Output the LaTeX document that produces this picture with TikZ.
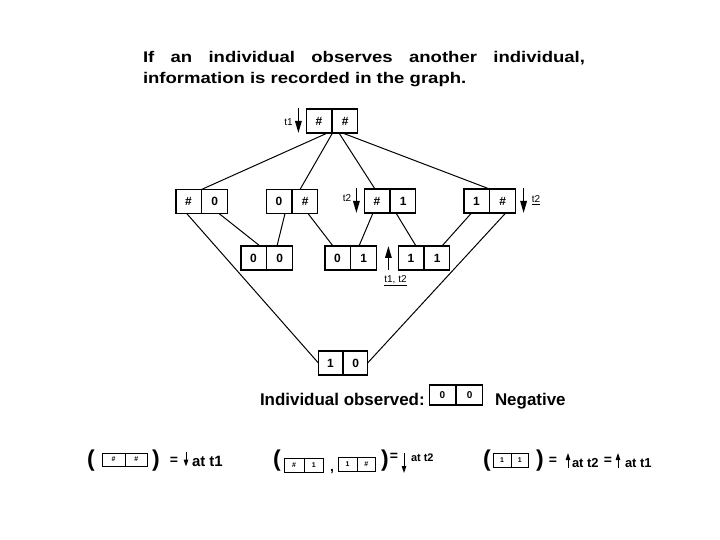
\documentclass[tikz,border=0pt]{standalone}
\usepackage{fontspec}
\setmainfont{Liberation Sans}
\newfontfamily\widesans[FakeStretch=1.2]{Liberation Sans}
\usetikzlibrary{arrows.meta,shapes.multipart}

\begin{document}
\begin{tikzpicture}[x=1bp,y=-1bp,
  every node/.style={inner sep=0pt,outer sep=0pt},
  pair/.style={draw,line width=1.2pt,rectangle split,rectangle split horizontal,
    rectangle split parts=2,text width=21bp,align=center,inner xsep=2bp,
    minimum height=24bp,font=\bfseries\fontsize{12}{12}\selectfont},
  mini/.style={pair,line width=0.8pt,minimum height=14bp,
    font=\bfseries\fontsize{7}{7}\selectfont},
  link/.style={line width=1pt},
  tarr/.style={line width=1.5pt,-{Triangle[length=12bp,width=6.5bp]}},
  sarr/.style={line width=1pt,-{Triangle[length=7bp,width=4.5bp]}},
  lbl/.style={font=\fontsize{10}{10}\selectfont},
  txt/.style={anchor=base west,font=\bfseries\fontsize{17}{17}\selectfont},
  sym/.style={font=\bfseries\fontsize{23}{23}\selectfont},
  eqs/.style={font=\bfseries\fontsize{14}{14}\selectfont}]
  \useasboundingbox (0,0) rectangle (720,540);
  % heading
  \node[anchor=base west,font=\widesans\bfseries\fontsize{15.5}{15.5}\selectfont] (head1) at (143,63)
    {\makebox[442bp][s]{If an individual observes another individual,}};
  \node[anchor=base west,font=\widesans\bfseries\fontsize{15.5}{15.5}\selectfont] (head2) at (143,84)
    {information is recorded in the graph.};
  % the graph
  \node[pair] (hh) at (332,121) {\#\nodepart{two}\#};
  \node[pair] (hz) at (201.5,201.5) {\#\nodepart{two}0};
  \node[pair] (zh) at (292,201.5) {0\nodepart{two}\#};
  \node[pair] (ho) at (390,201) {\#\nodepart{two}1};
  \node[pair] (oh) at (489.5,201) {1\nodepart{two}\#};
  \node[pair] (zz) at (266.5,258) {0\nodepart{two}0};
  \node[pair] (zo) at (350.5,258) {0\nodepart{two}1};
  \node[pair] (oo) at (424,258) {1\nodepart{two}1};
  \node[pair,text width=20bp] (oz) at (343,363) {1\nodepart{two}0};
  \draw[link] ([xshift=-4.5bp]hh.one split south) -- (hz.one split north);
  \draw[link] ([xshift=0.5bp]hh.one split south) -- ([xshift=8bp]zh.one split north);
  \draw[link] ([xshift=7bp]hh.one split south) -- ([xshift=-15bp]ho.one split north);
  \draw[link] ([xshift=10.5bp]hh.one split south) -- (oh.one split north);
  \draw[link] ([xshift=17.5bp]hz.one split south) -- ([xshift=-6.5bp]zz.one split north);
  \draw[link] ([xshift=-14.8bp]hz.one split south) -- (oz.west);
  \draw[link] ([xshift=-7bp]zh.one split south) -- ([xshift=10.5bp]zz.one split north);
  \draw[link] ([xshift=16bp]zh.one split south) -- ([xshift=-17.5bp]zo.one split north);
  \draw[link] ([xshift=-17bp]ho.one split south) -- ([xshift=8.5bp]zo.one split north);
  \draw[link] ([xshift=6bp]ho.one split south) -- ([xshift=-8bp]oo.one split north);
  \draw[link] ([xshift=-18bp]oh.one split south) -- ([xshift=18bp]oo.one split north);
  \draw[link] ([xshift=16.2bp]oh.one split south) -- (oz.east);
  % time marks
  \draw[tarr] ([xshift=-8bp,yshift=1bp]hh.north west) -- ([xshift=-8bp]hh.south west);
  \node[lbl] (t1a) at (288.5,122) {t1};
  \draw[tarr] ([xshift=-8bp,yshift=1bp]ho.north west) -- ([xshift=-8bp]ho.south west);
  \node[lbl] (t2a) at (347,198) {t2};
  \draw[tarr] ([xshift=8.5bp,yshift=1bp]oh.north east) -- ([xshift=8.5bp]oh.south east);
  \node[lbl] (t2b) at (536,200) {\underline{t2}};
  \draw[tarr] ([xshift=-10bp]oo.south west) -- ([xshift=-10bp]oo.north west);
  \node[lbl] (t12) at (395.5,281) {\underline{t1, t2}};
  % observed individual
  \node[txt] (obs) at (260,405) {Individual observed:};
  \node[pair,text width=22bp,minimum height=20bp,font=\bfseries\fontsize{10}{10}\selectfont]
    (neg) at (456,395) {0\nodepart{two}0};
  \node[txt] (negl) at (495,405) {Negative};
  % key
  \node[sym] (lp1) at (91,461) {(};
  \node[mini,text width=18bp,minimum height=13bp] (bhh) at (125,459.5) {\#\nodepart{two}\#};
  \node[sym] (rp1) at (156,461) {)};
  \node[eqs] (eq1) at (174,461) {=};
  \node[txt,font=\bfseries\fontsize{15}{15}\selectfont] (at1) at (192,466.5) {at t1};
  \draw[sarr] ([xshift=-6bp,yshift=15bp]at1.base west) -- ([xshift=-6bp]at1.base west);
  \node[sym] (lp2) at (277,461) {(};
  \node[mini,text width=15bp] (bho) at (304,465) {\#\nodepart{two}1};
  \node[eqs] (cm) at (332,472) {,};
  \node[mini,text width=14bp] (boh) at (357,464) {1\nodepart{two}\#};
  \node[sym] (rp2) at (385,461) {)};
  \node[eqs] (eq2) at (394,457) {=};
  \node[txt,font=\bfseries\fontsize{11}{11}\selectfont] (at2) at (411,461) {at t2};
  \draw[sarr] ([xshift=-7bp,yshift=8bp]at2.base west) -- ([xshift=-7bp,yshift=-12bp]at2.base west);
  \node[sym] (lp3) at (487,461) {(};
  \node[mini,text width=13bp] (boo) at (511,460) {1\nodepart{two}1};
  \node[sym] (rp3) at (540,461) {)};
  \node[eqs] (eq3) at (553,461) {=};
  \node[txt,font=\bfseries\fontsize{13}{13}\selectfont] (at3) at (572,467) {at t2};
  \draw[sarr] ([xshift=-4bp,yshift=-1bp]at3.base west) -- ([xshift=-4bp,yshift=14bp]at3.base west);
  \node[eqs] (eq4) at (608,461) {=};
  \node[txt,font=\bfseries\fontsize{13}{13}\selectfont] (at4) at (625,467) {at t1};
  \draw[sarr] ([xshift=-7bp,yshift=-1bp]at4.base west) -- ([xshift=-7bp,yshift=14bp]at4.base west);
\end{tikzpicture}
\end{document}
